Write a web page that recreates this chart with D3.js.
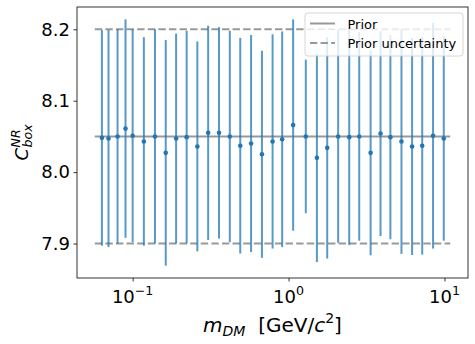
<!DOCTYPE html>
<html>
<head>
<meta charset="utf-8">
<script src="https://cdn.jsdelivr.net/npm/d3@7"></script>
<style>
  body { margin: 0; background: #fff; }
  text { font-family: "DejaVu Sans", sans-serif; fill: #000; }
</style>
</head>
<body>
<div id="chart"></div>
<script>
// masses in GeV/c^2
const masses = [0.0635, 0.07, 0.08, 0.09, 0.1, 0.118, 0.139, 0.163, 0.19, 0.222,
    0.26, 0.305, 0.358, 0.42, 0.49, 0.575, 0.675, 0.79, 0.91, 1.07,
    1.29, 1.52, 1.77, 2.08, 2.45, 2.84, 3.36, 3.89, 4.5, 5.3,
    6.2, 7.2, 8.45, 9.9];
const values = [8.048, 8.047, 8.050, 8.061, 8.051, 8.043, 8.050, 8.027, 8.047, 8.049,
    8.036, 8.055, 8.055, 8.050, 8.037, 8.040, 8.025, 8.043, 8.046, 8.066,
    8.050, 8.020, 8.034, 8.050, 8.049, 8.050, 8.027, 8.054, 8.049, 8.043,
    8.036, 8.037, 8.051, 8.047];
const errors = [0.151, 0.152, 0.150, 0.153, 0.149, 0.146, 0.150, 0.158, 0.147, 0.149,
    0.147, 0.150, 0.148, 0.148, 0.151, 0.152, 0.145, 0.150, 0.151, 0.148,
    0.1075, 0.146, 0.155, 0.149, 0.151, 0.146, 0.1435, 0.1435, 0.143, 0.1575,
    0.152, 0.1525, 0.158, 0.143];
const prior = 8.05;
const priorUnc = 0.15;
const yTicks = [7.9, 8.0, 8.1, 8.2];
const xTicks = [0.1, 1, 10];
const xTickExp = ['\u22121', '0', '1'];
const legendLabels = ['Prior', 'Prior uncertainty'];

const width = 475, height = 344;
const margin = { left: 77, top: 7, right: 7, bottom: 66 };
const innerW = width - margin.left - margin.right;
const innerH = height - margin.top - margin.bottom;

const svg = d3.select('#chart').append('svg')
    .attr('width', width)
    .attr('height', height);
svg.append('rect').attr('width', width).attr('height', height).attr('fill', '#fff');

// hlines span slightly past the data, axes add 5% margin in log space
const lineMin = d3.min(masses) * 0.9, lineMax = d3.max(masses) * 1.1;
const lx0 = Math.log10(lineMin), lx1 = Math.log10(lineMax);
const xm = (lx1 - lx0) * 0.05;
const x = d3.scaleLog()
    .domain([Math.pow(10, lx0 - xm), Math.pow(10, lx1 + xm)])
    .range([0, innerW]);

const yLo = d3.min(values.map((v, i) => v - errors[i]));
const yHi = d3.max(values.map((v, i) => v + errors[i]));
const ym = (yHi - yLo) * 0.05;
const y = d3.scaleLinear().domain([yLo - ym, yHi + ym]).range([innerH, 0]);

const g = svg.append('g').attr('transform', `translate(${margin.left},${margin.top})`);

// prior lines
const grey = '#999';
g.append('line')
    .attr('x1', x(lineMin)).attr('x2', x(lineMax))
    .attr('y1', y(prior)).attr('y2', y(prior))
    .attr('stroke', grey).attr('stroke-width', 2);
[prior + priorUnc, prior - priorUnc].forEach(v => {
    g.append('line')
        .attr('x1', x(lineMin)).attr('x2', x(lineMax))
        .attr('y1', y(v)).attr('y2', y(v))
        .attr('stroke', grey).attr('stroke-width', 2)
        .attr('stroke-dasharray', '7.4,3.2');
});

// error bars
g.selectAll('.err').data(masses).join('line')
    .attr('class', 'err')
    .attr('x1', d => x(d)).attr('x2', d => x(d))
    .attr('y1', (d, i) => y(values[i] - errors[i]))
    .attr('y2', (d, i) => y(values[i] + errors[i]))
    .attr('stroke', '#1f77b4').attr('stroke-opacity', 0.75)
    .attr('stroke-width', 2);

g.selectAll('.pt').data(masses).join('circle')
    .attr('class', 'pt')
    .attr('cx', d => x(d))
    .attr('cy', (d, i) => y(values[i]))
    .attr('r', 2.3)
    .attr('fill', '#1f77b4');

// axes
const yAxis = d3.axisLeft(y).tickValues(yTicks).tickSize(3.5).tickPadding(3.5)
    .tickFormat(d3.format('.1f'));
const yg = g.append('g').call(yAxis);
yg.selectAll('text').attr('font-size', 18).attr('font-family', 'DejaVu Sans');

const minor = [];
for (let e = -2; e <= 1; e++) {
    for (let k = 2; k <= 9; k++) {
        const v = k * Math.pow(10, e);
        if (v >= x.domain()[0] && v <= x.domain()[1]) minor.push(v);
    }
}
const xg = g.append('g').attr('transform', `translate(0,${innerH})`);
xg.call(d3.axisBottom(x).tickValues(minor).tickSize(2).tickFormat(''));
xg.call(d3.axisBottom(x).tickValues(xTicks).tickSize(3.5).tickPadding(3.5).tickFormat(''));
xg.select('.domain').remove();
xg.selectAll('line').attr('stroke-width', 0.8);

xTicks.forEach((t, i) => {
    const tx = g.append('text')
        .attr('x', x(t)).attr('y', innerH + 25)
        .attr('text-anchor', 'middle')
        .attr('font-size', 18);
    tx.append('tspan').text('10');
    tx.append('tspan').attr('dy', -8).attr('font-size', 12.6).text(xTickExp[i]);
});

yg.select('.domain').remove();
yg.selectAll('line').attr('stroke-width', 0.8);

g.append('rect')
    .attr('width', innerW).attr('height', innerH)
    .attr('fill', 'none').attr('stroke', '#000').attr('stroke-width', 0.8);

// x label
const xl = g.append('text')
    .attr('x', innerW / 2).attr('y', innerH + 54)
    .attr('text-anchor', 'middle').attr('font-size', 20);
xl.append('tspan').attr('font-style', 'italic').text('m');
xl.append('tspan').attr('font-style', 'italic').attr('font-size', 14).attr('dy', 4).text('DM');
xl.append('tspan').attr('dy', -4).text('\u00a0\u00a0[GeV/');
xl.append('tspan').attr('font-style', 'italic').text('c');
xl.append('tspan').attr('font-size', 14).attr('dy', -9).text('2');
xl.append('tspan').attr('dy', 9).text(']');

// y label
const yl = svg.append('g')
    .attr('transform', `translate(28,${margin.top + innerH / 2}) rotate(-90)`);
const cT = yl.append('text').attr('font-size', 18).attr('font-style', 'italic').text('C');
const cw = cT.node().getComputedTextLength();
const sub = yl.append('text').attr('x', cw + 0.5).attr('y', 4)
    .attr('font-size', 12.6).attr('font-style', 'italic').text('box');
yl.append('text').attr('x', cw + 0.5).attr('y', -8)
    .attr('font-size', 12.6).attr('font-style', 'italic').text('NR');
const totalW = cw + 0.5 + sub.node().getComputedTextLength();
yl.selectAll('text').attr('transform', `translate(${-totalW / 2},0)`);

// legend
const lg = svg.append('g').attr('transform', 'translate(305,13)');
lg.append('rect')
    .attr('width', 158).attr('height', 43).attr('rx', 3)
    .attr('fill', '#fff').attr('fill-opacity', 0.8)
    .attr('stroke', '#ccc').attr('stroke-width', 0.8);
legendLabels.forEach((lab, i) => {
    const ry = 10.5 + i * 19.5;
    lg.append('line')
        .attr('x1', 5).attr('x2', 30).attr('y1', ry).attr('y2', ry)
        .attr('stroke', grey).attr('stroke-width', 2)
        .attr('stroke-dasharray', i === 1 ? '7.4,3.2' : null);
    lg.append('text')
        .attr('x', 42.5).attr('y', ry + 5)
        .attr('font-size', 13).text(lab);
});
</script>
</body>
</html>
